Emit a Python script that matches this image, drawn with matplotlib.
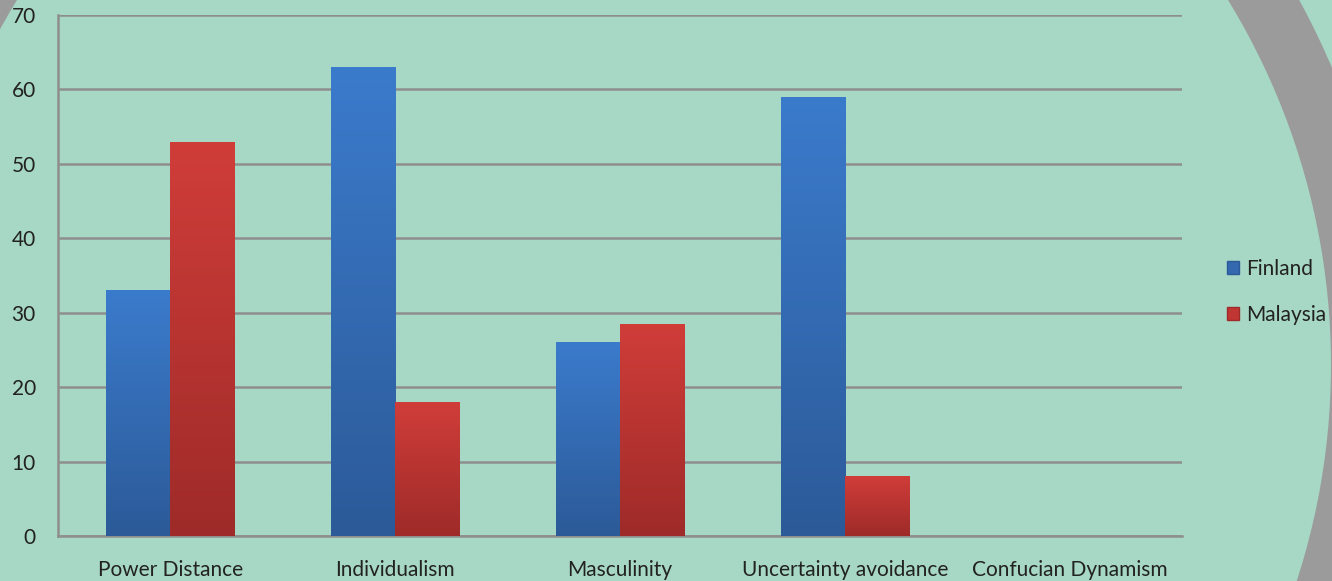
import numpy as np
import matplotlib.pyplot as plt
from matplotlib.colors import LinearSegmentedColormap
from matplotlib.patches import Ellipse, Patch

categories = ['Power Distance', 'Individualism', 'Masculinity',
              'Uncertainty avoidance', 'Confucian Dynamism']
finland = [33, 63, 26, 59, 0]
malaysia = [53, 18, 28.5, 8, 0]
yticks = [0, 10, 20, 30, 40, 50, 60, 70]

BG = '#a7d7c5'
GRAY = '#9b9b9b'
GRID = '#8e8e8e'

plt.rcParams['font.family'] = ['Lato', 'DejaVu Sans']

fig = plt.figure(figsize=(13.32, 5.81), dpi=100, facecolor=BG)

# slide decoration: grey ring behind the chart, in pixel coordinates
deco = fig.add_axes([0, 0, 1, 1], zorder=0)
deco.set_xlim(0, 1332)
deco.set_ylim(581, 0)
deco.axis('off')
deco.add_patch(Ellipse((622.5, 365), 2 * 770, 2 * 765, color=GRAY, lw=0))
deco.add_patch(Ellipse((622.5, 365), 2 * 708.5, 2 * 703, color=BG, lw=0))

ax = fig.add_axes([58 / 1332, 45 / 581, 1124 / 1332, 521 / 581], zorder=1)
ax.patch.set_visible(False)

x = np.arange(len(categories))
w = 0.285

blue_cmap = LinearSegmentedColormap.from_list('fin', ['#2c5a98', '#3b7bcc'])
red_cmap = LinearSegmentedColormap.from_list('mal', ['#9e2b29', '#d03d39'])
grad = np.linspace(0, 1, 256).reshape(-1, 1)


def gradient_bars(xs, vals, cmap, base):
    bars = ax.bar(xs, vals, w, color=base, edgecolor='none', zorder=2)
    for b, v in zip(bars, vals):
        if v <= 0:
            continue
        x0 = b.get_x()
        im = ax.imshow(grad, extent=[x0, x0 + w, 0, v], origin='lower',
                       aspect='auto', cmap=cmap, zorder=3)
        im.set_clip_path(b)
    return bars


gradient_bars(x - w / 2, finland, blue_cmap, '#3469b0')
gradient_bars(x + w / 2, malaysia, red_cmap, '#b83431')

ax.set_xlim(-0.5, len(categories) - 0.5)
ax.set_ylim(0, 70)
ax.set_yticks(yticks)
ax.set_xticks(x)
ax.set_xticklabels(categories)
ax.yaxis.grid(True, color=GRID, lw=1.8)
ax.set_axisbelow(True)
for s in ['top', 'right']:
    ax.spines[s].set_visible(False)
for s in ['left', 'bottom']:
    ax.spines[s].set_color(GRID)
    ax.spines[s].set_linewidth(1.8)
ax.tick_params(axis='y', length=0, pad=16, labelsize=15, labelcolor='#222222')
ax.tick_params(axis='x', length=0, pad=17, labelsize=15, labelcolor='#222222')

handles = [Patch(facecolor='#3469b0', edgecolor='#2c5a98', label='Finland'),
           Patch(facecolor='#c03633', edgecolor='#9e2b29', label='Malaysia')]
fig.legend(handles=handles, loc='center left',
           bbox_to_anchor=(1208 / 1332, 1 - 292 / 581), frameon=False,
           fontsize=15, handlelength=0.58, handleheight=0.58,
           handletextpad=0.35, labelspacing=1.25, labelcolor='#222222')

fig.savefig('out.png', dpi=100, facecolor=BG)
